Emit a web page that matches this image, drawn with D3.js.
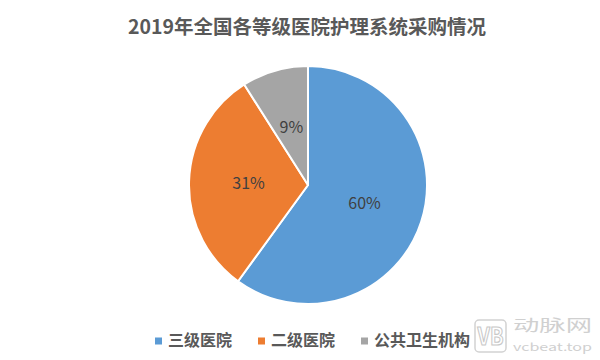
<!DOCTYPE html>
<html><head><meta charset="utf-8">
<script src="https://cdn.jsdelivr.net/npm/d3@7"></script>
<style>body{margin:0;background:#fff}svg{display:block}text{font-family:"Noto Sans CJK SC","Noto Sans",sans-serif}</style>
</head><body><svg id="c" width="600" height="360"></svg>
<script>
const title = "2019年全国各等级医院护理系统采购情况";
const categories = ["三级医院", "二级医院", "公共卫生机构"];
const values = [60, 31, 9];
const colors = ["#5B9BD5", "#ED7D31", "#A5A5A5"];

const svg = d3.select("#c");
const W = 600, H = 360;
svg.append("rect").attr("width", W).attr("height", H).attr("fill", "#fff");

svg.append("text").attr("x", 307).attr("y", 34).attr("text-anchor", "middle")
  .attr("font-size", 19.5).attr("font-weight", "bold").attr("fill", "#595959").text(title);

const cx = 308, cy = 185, R = 119;
const pie = d3.pie().sort(null).value(d => d)(values);
const arc = d3.arc().innerRadius(0).outerRadius(R);
const labelArc = d3.arc().innerRadius(R * 0.5).outerRadius(R * 0.5);
const g = svg.append("g").attr("transform", `translate(${cx},${cy})`);
g.selectAll("path").data(pie).join("path")
  .attr("d", arc).attr("fill", (d, i) => colors[i])
  .attr("stroke", "#fff").attr("stroke-width", 2).attr("stroke-linejoin", "round");
g.selectAll("text.lbl").data(pie).join("text").attr("class", "lbl")
  .attr("transform", d => `translate(${labelArc.centroid(d)})`)
  .attr("text-anchor", "middle").attr("dy", "0.35em")
  .attr("font-size", 16).attr("fill", "#404040")
  .text(d => d.data + "%");

// legend
const legX = [155, 258, 361];
const lg = svg.append("g");
categories.forEach((c, i) => {
  lg.append("rect").attr("x", legX[i]).attr("y", 337.5).attr("width", 7).attr("height", 7).attr("fill", colors[i]);
  lg.append("text").attr("x", legX[i] + 13).attr("y", 340).attr("dy", "0.35em")
    .attr("font-size", 16).attr("font-weight", "bold").attr("fill", "#595959").text(c);
});

// watermark
const wm = svg.append("g");
wm.append("rect").attr("x", 475).attr("y", 320).attr("width", 31).attr("height", 32).attr("rx", 4)
  .attr("fill", "none").attr("stroke", "#d2d2d2").attr("stroke-width", 1.5);
wm.append("text").attr("x", 490.5).attr("y", 345).attr("text-anchor", "middle")
  .attr("font-size", 24).attr("font-weight", "bold").attr("fill", "none")
  .attr("stroke", "#c8c8c8").attr("stroke-width", 1.2).attr("textLength", 26).attr("lengthAdjust", "spacingAndGlyphs").text("VB");
wm.append("text").attr("x", 513).attr("y", 331).attr("font-size", 16).attr("fill", "#d0d0d0")
  .attr("textLength", 79).attr("lengthAdjust", "spacingAndGlyphs").text("动脉网");
wm.append("text").attr("x", 513).attr("y", 351).attr("font-size", 11).attr("fill", "#d0d0d0")
  .attr("textLength", 79).attr("lengthAdjust", "spacingAndGlyphs").text("vcbeat.top");
</script></body></html>
